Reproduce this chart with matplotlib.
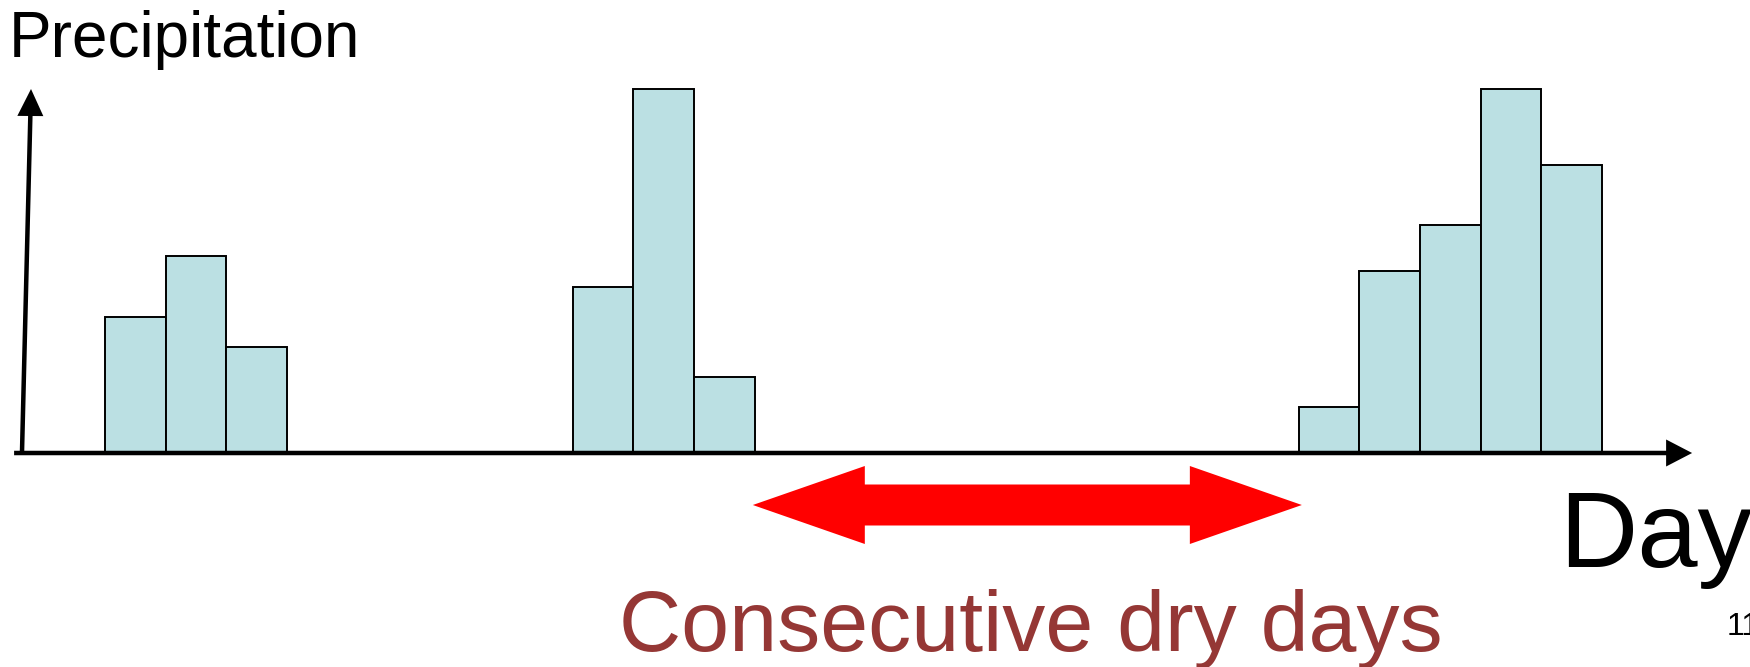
import matplotlib
matplotlib.use("Agg")
import matplotlib.pyplot as plt

plt.rcParams['font.family'] = ['Liberation Sans', 'DejaVu Sans']

# ---- data ----
rain_days = [0.0, 1.0, 2.0, 7.72, 8.72, 9.72, 19.7, 20.7, 21.7, 22.7, 23.7]
rain_values = [3.74, 5.41, 2.91, 4.56, 10.0, 2.09, 1.26, 5.0, 6.26, 10.0, 7.91]
y_label = "Precipitation"
x_label = "Day"
dry_label = "Consecutive dry days"
page_number = "11"
dry_start = 10.69
dry_end = 19.75

W, H = 1750, 667
fig = plt.figure(figsize=(W / 100, H / 100), dpi=100)
ax = fig.add_axes([0, 0, 1, 1])

# pixel mapping: x_px = 105 + day*60.6 ; y_px_from_bottom = 214 + v*36.4
xs, x0 = 60.6, 105.0
ys, y0 = 36.4, 214.0
ax.set_xlim(-x0 / xs, (W - x0) / xs)
ax.set_ylim(-y0 / ys, (H - y0) / ys)
ax.set_axis_off()

ax.bar(rain_days, rain_values, width=1.0, align='edge', color='#BBE0E3',
       edgecolor='black', linewidth=1.4, zorder=2)

# x axis arrow
x_axis_start = -1.50
x_axis_end = 26.19
ax.arrow(x_axis_start, 0, x_axis_end - x_axis_start, 0, width=4.5 / ys,
         head_width=27 / ys, head_length=26 / xs, length_includes_head=True,
         color='black', linewidth=0, zorder=3)

# y axis arrow (slightly slanted)
y_axis_base_x = -1.37
y_axis_top_x = -1.221
y_axis_top = max(rain_values)
ax.arrow(y_axis_base_x, 0, y_axis_top_x - y_axis_base_x, y_axis_top,
         width=4.5 / xs, head_width=26 / xs, head_length=27 / ys,
         length_includes_head=True, color='black', linewidth=0, zorder=3)

# red double arrow for consecutive dry days
dry_y = -52 / ys
head_len = 112 / xs
shaft_w = 41 / ys
head_w = 78 / ys
# right-pointing arrow whose shaft ends inside the left head
tail = dry_start + 75 / xs
ax.arrow(tail, dry_y, dry_end - tail, 0, width=shaft_w, head_width=head_w,
         head_length=head_len, length_includes_head=True, color='#FF0000',
         linewidth=0, zorder=3)
# left head
lstart = dry_start + head_len + 10 / xs
ax.arrow(lstart, dry_y, dry_start - lstart, 0, width=shaft_w * 0.5,
         head_width=head_w, head_length=head_len, length_includes_head=True,
         color='#FF0000', linewidth=0, zorder=3)

# texts
fig.text(9 / W, (H - 57) / H, y_label, fontsize=46, color='black',
         ha='left', va='baseline')
fig.text(1559 / W, (H - 567) / H, x_label, fontsize=78, color='black',
         ha='left', va='baseline')
fig.text(1030.5 / W, (H - 651) / H, dry_label, fontsize=62, color='#953735',
         ha='center', va='baseline')
fig.text(1727 / W, (H - 635) / H, page_number, fontsize=23, color='black',
         ha='left', va='baseline')

fig.savefig("out.png", dpi=100)
